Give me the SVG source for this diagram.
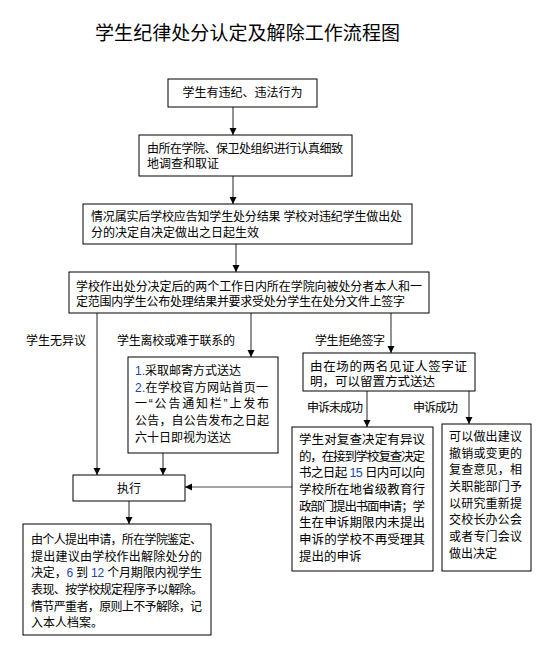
<svg xmlns="http://www.w3.org/2000/svg" width="546" height="656" viewBox="0 0 546 656">
<style>
text{font-family:"Liberation Sans","Noto Sans CJK SC",sans-serif;fill:#000;font-size:12px}
.box{fill:#fff;stroke:#000;stroke-width:1}
.c{stroke:#4a4a4a;stroke-width:1.2;fill:none;marker-end:url(#ah)}
.b{fill:#2346a8}
.t{font-size:19px}
.m{font-size:12.5px}
</style>
<defs>
<marker id="ah" markerUnits="userSpaceOnUse" markerWidth="8" markerHeight="8" refX="7" refY="3.5" orient="auto">
<path d="M0,0 L7,3.5 L0,7 z" fill="#000"/>
</marker>
</defs>
<rect width="546" height="656" fill="#fff"/>
<text class="t" x="95" y="40" textLength="305">学生纪律处分认定及解除工作流程图</text>

<g id="connectors">
<line class="c" x1="233" y1="107" x2="233" y2="135"/>
<line class="c" x1="233" y1="176" x2="233" y2="204"/>
<line class="c" x1="236" y1="244" x2="236" y2="272"/>
<line class="c" x1="97" y1="313" x2="97" y2="475"/>
<line class="c" x1="251" y1="313" x2="251" y2="357"/>
<line class="c" x1="391" y1="313" x2="391" y2="353"/>
<line class="c" x1="163" y1="453" x2="163" y2="475"/>
<line class="c" x1="367" y1="391" x2="367" y2="427"/>
<line class="c" x1="469" y1="391" x2="469" y2="424"/>
<line class="c" x1="292" y1="487" x2="185" y2="487"/>
<line class="c" x1="129" y1="501" x2="129" y2="524"/>
</g>

<g id="labels">
<text x="26" y="345">学生无异议</text>
<text x="117" y="345" textLength="118">学生离校或难于联系的</text>
<text x="315" y="345" textLength="70">学生拒绝签字</text>
<text x="307" y="412" textLength="56">申诉未成功</text>
<text x="413" y="412" textLength="45">申诉成功</text>
</g>

<g id="n1">
<rect class="box" x="168" y="79" width="149" height="28"/>
<text x="242.5" y="97" text-anchor="middle">学生有违纪、违法行为</text>
</g>
<g id="n2">
<rect class="box" x="139" y="135" width="213" height="41"/>
<text x="147" y="153" textLength="196">由所在学院、保卫处组织进行认真细致</text>
<text x="147" y="168">地调查和取证</text>
</g>
<g id="n3">
<rect class="box" x="83" y="204" width="329" height="40"/>
<text x="91" y="221" textLength="311">情况属实后学校应告知学生处分结果 学校对违纪学生做出处</text>
<text x="91" y="237">分的决定自决定做出之日起生效</text>
</g>
<g id="n4">
<rect class="box" x="69" y="272" width="360" height="41"/>
<text x="76" y="291" textLength="346">学校作出处分决定后的两个工作日内所在学院向被处分者本人和一</text>
<text x="76" y="306" textLength="329">定范围内学生公布处理结果并要求受处分学生在处分文件上签字</text>
</g>
<g id="n5">
<rect class="box" x="128" y="357" width="150" height="96"/>
<text x="135" y="375"><tspan class="b">1.</tspan>采取邮寄方式送达</text>
<text x="135" y="391.7" textLength="133"><tspan class="b">2.</tspan>在学校官方网站首页一</text>
<text x="135" y="408.3" textLength="134">一“公告通知栏”上发布</text>
<text x="135" y="425" textLength="134">公告，自公告发布之日起</text>
<text x="135" y="441.7">六十日即视为送达</text>
</g>
<g id="n6">
<rect class="box" x="303" y="353" width="172" height="38"/>
<text class="m" x="310" y="371" textLength="157">由在场的两名见证人签字证</text>
<text class="m" x="310" y="386">明，可以留置方式送达</text>
</g>
<g id="n7">
<rect class="box" x="292" y="427" width="141" height="144"/>
<text class="m" x="299" y="444" textLength="126">学生对复查决定有异议</text>
<text class="m" x="299" y="460.7" textLength="126">的，在接到学校复查决定</text>
<text class="m" x="299" y="477.3" textLength="126">书之日起 <tspan class="b">15</tspan> 日内可以向</text>
<text class="m" x="299" y="494" textLength="126">学校所在地省级教育行</text>
<text class="m" x="299" y="510.7" textLength="126">政部门提出书面申请；学</text>
<text class="m" x="299" y="527.3" textLength="126">生在申诉期限内未提出</text>
<text class="m" x="299" y="544" textLength="126">申诉的学校不再受理其</text>
<text class="m" x="299" y="560.7">提出的申诉</text>
</g>
<g id="n8">
<rect class="box" x="442" y="424" width="89" height="147"/>
<text x="449" y="441" textLength="73">可以做出建议</text>
<text x="449" y="457.7" textLength="73">撤销或变更的</text>
<text x="449" y="474.3" textLength="73">复查意见，相</text>
<text x="449" y="491" textLength="73">关职能部门予</text>
<text x="449" y="507.7" textLength="73">以研究重新提</text>
<text x="449" y="524.3" textLength="73">交校长办公会</text>
<text x="449" y="541" textLength="73">或者专门会议</text>
<text x="449" y="557.7">做出决定</text>
</g>
<g id="n9">
<rect class="box" x="73" y="475" width="112" height="26"/>
<text x="129" y="493" text-anchor="middle">执行</text>
</g>
<g id="n10">
<rect class="box" x="23" y="524" width="188" height="111"/>
<text x="31" y="544" textLength="171">由个人提出申请，所在学院鉴定、</text>
<text x="31" y="560.7" textLength="171">提出建议由学校作出解除处分的</text>
<text x="31" y="577.3" textLength="171">决定，<tspan class="b">6</tspan> 到 <tspan class="b">12</tspan> 个月期限内视学生</text>
<text x="31" y="594" textLength="172">表现、按学校规定程序予以解除。</text>
<text x="31" y="610.7" textLength="171">情节严重者，原则上不予解除，记</text>
<text x="31" y="627.3">入本人档案。</text>
</g>
</svg>
